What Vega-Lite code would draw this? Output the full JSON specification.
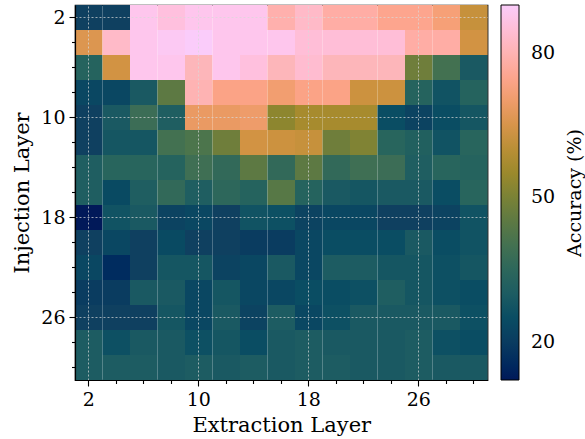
{
"$schema": "https://vega.github.io/schema/vega-lite/v6.json",
"width": 412.5, "height": 375,
"autosize": {"type": "none"},
"padding": {"left": 75, "top": 5, "right": 97.5, "bottom": 59},
"background": "white",
"config": {"font": "DejaVu Serif", "view": {"stroke": "black", "strokeWidth": 1.2}},
"datasets": {"acc": [
{"e":2,"i":2,"a":21},{"e":4,"i":2,"a":21},{"e":6,"i":2,"a":88},{"e":8,"i":2,"a":86},{"e":10,"i":2,"a":88},{"e":12,"i":2,"a":88},{"e":14,"i":2,"a":88},{"e":16,"i":2,"a":79},{"e":18,"i":2,"a":83},{"e":20,"i":2,"a":78},{"e":22,"i":2,"a":78},{"e":24,"i":2,"a":75},{"e":26,"i":2,"a":75},{"e":28,"i":2,"a":72},{"e":30,"i":2,"a":62},
{"e":2,"i":4,"a":66},{"e":4,"i":4,"a":83},{"e":6,"i":4,"a":88},{"e":8,"i":4,"a":89},{"e":10,"i":4,"a":90},{"e":12,"i":4,"a":88},{"e":14,"i":4,"a":88},{"e":16,"i":4,"a":88},{"e":18,"i":4,"a":85},{"e":20,"i":4,"a":85},{"e":22,"i":4,"a":85},{"e":24,"i":4,"a":85},{"e":26,"i":4,"a":78},{"e":28,"i":4,"a":78},{"e":30,"i":4,"a":64},
{"e":2,"i":6,"a":33},{"e":4,"i":6,"a":64},{"e":6,"i":6,"a":88},{"e":8,"i":6,"a":88},{"e":10,"i":6,"a":81},{"e":12,"i":6,"a":88},{"e":14,"i":6,"a":86},{"e":16,"i":6,"a":81},{"e":18,"i":6,"a":84},{"e":20,"i":6,"a":81},{"e":22,"i":6,"a":81},{"e":24,"i":6,"a":81},{"e":26,"i":6,"a":48},{"e":28,"i":6,"a":40},{"e":30,"i":6,"a":29},
{"e":2,"i":8,"a":23},{"e":4,"i":8,"a":23},{"e":6,"i":8,"a":29},{"e":8,"i":8,"a":45},{"e":10,"i":8,"a":80},{"e":12,"i":8,"a":74},{"e":14,"i":8,"a":74},{"e":16,"i":8,"a":71},{"e":18,"i":8,"a":74},{"e":20,"i":8,"a":74},{"e":22,"i":8,"a":63},{"e":24,"i":8,"a":63},{"e":26,"i":8,"a":33},{"e":28,"i":8,"a":27},{"e":30,"i":8,"a":33},
{"e":2,"i":10,"a":21},{"e":4,"i":10,"a":29},{"e":6,"i":10,"a":38},{"e":8,"i":10,"a":31},{"e":10,"i":10,"a":69},{"e":12,"i":10,"a":69},{"e":14,"i":10,"a":70},{"e":16,"i":10,"a":53},{"e":18,"i":10,"a":57},{"e":20,"i":10,"a":57},{"e":22,"i":10,"a":57},{"e":24,"i":10,"a":25},{"e":26,"i":10,"a":22},{"e":28,"i":10,"a":25},{"e":30,"i":10,"a":28},
{"e":2,"i":12,"a":21},{"e":4,"i":12,"a":28},{"e":6,"i":12,"a":28},{"e":8,"i":12,"a":40},{"e":10,"i":12,"a":42},{"e":12,"i":12,"a":48},{"e":14,"i":12,"a":64},{"e":16,"i":12,"a":63},{"e":18,"i":12,"a":62},{"e":20,"i":12,"a":48},{"e":22,"i":12,"a":51},{"e":24,"i":12,"a":34},{"e":26,"i":12,"a":32},{"e":28,"i":12,"a":27},{"e":30,"i":12,"a":34},
{"e":2,"i":14,"a":31},{"e":4,"i":14,"a":34},{"e":6,"i":14,"a":34},{"e":8,"i":14,"a":33},{"e":10,"i":14,"a":39},{"e":12,"i":14,"a":36},{"e":14,"i":14,"a":45},{"e":16,"i":14,"a":36},{"e":18,"i":14,"a":45},{"e":20,"i":14,"a":36},{"e":22,"i":14,"a":39},{"e":24,"i":14,"a":38},{"e":26,"i":14,"a":31},{"e":28,"i":14,"a":34},{"e":30,"i":14,"a":33},
{"e":2,"i":16,"a":31},{"e":4,"i":16,"a":24},{"e":6,"i":16,"a":31},{"e":8,"i":16,"a":36},{"e":10,"i":16,"a":31},{"e":12,"i":16,"a":35},{"e":14,"i":16,"a":33},{"e":16,"i":16,"a":44},{"e":18,"i":16,"a":33},{"e":20,"i":16,"a":29},{"e":22,"i":16,"a":28},{"e":24,"i":16,"a":29},{"e":26,"i":16,"a":29},{"e":28,"i":16,"a":25},{"e":30,"i":16,"a":34},
{"e":2,"i":18,"a":12},{"e":4,"i":18,"a":27},{"e":6,"i":18,"a":29},{"e":8,"i":18,"a":22},{"e":10,"i":18,"a":23},{"e":12,"i":18,"a":21},{"e":14,"i":18,"a":27},{"e":16,"i":18,"a":26},{"e":18,"i":18,"a":22},{"e":20,"i":18,"a":23},{"e":22,"i":18,"a":23},{"e":24,"i":18,"a":21},{"e":26,"i":18,"a":21},{"e":28,"i":18,"a":22},{"e":30,"i":18,"a":27},
{"e":2,"i":20,"a":21},{"e":4,"i":20,"a":23},{"e":6,"i":20,"a":21},{"e":8,"i":20,"a":24},{"e":10,"i":20,"a":21},{"e":12,"i":20,"a":21},{"e":14,"i":20,"a":20},{"e":16,"i":20,"a":20},{"e":18,"i":20,"a":23},{"e":20,"i":20,"a":25},{"e":22,"i":20,"a":25},{"e":24,"i":20,"a":25},{"e":26,"i":20,"a":29},{"e":28,"i":20,"a":25},{"e":30,"i":20,"a":27},
{"e":2,"i":22,"a":23},{"e":4,"i":22,"a":16},{"e":6,"i":22,"a":21},{"e":8,"i":22,"a":28},{"e":10,"i":22,"a":28},{"e":12,"i":22,"a":22},{"e":14,"i":22,"a":23},{"e":16,"i":22,"a":29},{"e":18,"i":22,"a":23},{"e":20,"i":22,"a":30},{"e":22,"i":22,"a":30},{"e":24,"i":22,"a":28},{"e":26,"i":22,"a":28},{"e":28,"i":22,"a":26},{"e":30,"i":22,"a":28},
{"e":2,"i":24,"a":20},{"e":4,"i":24,"a":20},{"e":6,"i":24,"a":29},{"e":8,"i":24,"a":29},{"e":10,"i":24,"a":23},{"e":12,"i":24,"a":28},{"e":14,"i":24,"a":23},{"e":16,"i":24,"a":23},{"e":18,"i":24,"a":25},{"e":20,"i":24,"a":25},{"e":22,"i":24,"a":26},{"e":24,"i":24,"a":31},{"e":26,"i":24,"a":28},{"e":28,"i":24,"a":26},{"e":30,"i":24,"a":25},
{"e":2,"i":26,"a":21},{"e":4,"i":26,"a":21},{"e":6,"i":26,"a":21},{"e":8,"i":26,"a":28},{"e":10,"i":26,"a":23},{"e":12,"i":26,"a":29},{"e":14,"i":26,"a":22},{"e":16,"i":26,"a":30},{"e":18,"i":26,"a":23},{"e":20,"i":26,"a":26},{"e":22,"i":26,"a":29},{"e":24,"i":26,"a":29},{"e":26,"i":26,"a":29},{"e":28,"i":26,"a":29},{"e":30,"i":26,"a":26},
{"e":2,"i":28,"a":30},{"e":4,"i":28,"a":26},{"e":6,"i":28,"a":29},{"e":8,"i":28,"a":29},{"e":10,"i":28,"a":26},{"e":12,"i":28,"a":28},{"e":14,"i":28,"a":25},{"e":16,"i":28,"a":29},{"e":18,"i":28,"a":30},{"e":20,"i":28,"a":29},{"e":22,"i":28,"a":29},{"e":24,"i":28,"a":29},{"e":26,"i":28,"a":30},{"e":28,"i":28,"a":26},{"e":30,"i":28,"a":25},
{"e":2,"i":30,"a":30},{"e":4,"i":30,"a":30},{"e":6,"i":30,"a":30},{"e":8,"i":30,"a":29},{"e":10,"i":30,"a":30},{"e":12,"i":30,"a":29},{"e":14,"i":30,"a":30},{"e":16,"i":30,"a":29},{"e":18,"i":30,"a":30},{"e":20,"i":30,"a":30},{"e":22,"i":30,"a":29},{"e":24,"i":30,"a":29},{"e":26,"i":30,"a":30},{"e":28,"i":30,"a":29},{"e":30,"i":30,"a":29}
]},
"data": {"name": "acc"},
"mark": {"type": "rect"},
"encoding": {
  "x": {"field": "e", "type": "ordinal", "scale": {"paddingInner": 0, "paddingOuter": 0},
    "axis": {"title": "Extraction Layer", "labelAngle": 0, "labelExpr": "datum.value % 8 == 2 ? datum.label : ''",
      "bandPosition": 0.5, "tickSize": {"condition": {"test": "datum.value % 8 == 2", "value": 6}, "value": 3.5},
      "grid": true, "gridColor": "#d8d8d8", "gridDash": [2, 2], "gridWidth": 1,
      "gridOpacity": {"condition": {"test": "datum.value % 8 == 2", "value": 0.7}, "value": 0},
      "zindex": 1, "domainColor": "black", "domainWidth": 1.2, "tickColor": "black", "tickWidth": 1.1,
      "labelColor": "black", "labelFontSize": 19, "labelPadding": 4, "labelFont": "DejaVu Serif",
      "titleColor": "black", "titleFontSize": 21, "titleFontWeight": "normal", "titlePadding": 5, "titleFont": "DejaVu Serif"}},
  "y": {"field": "i", "type": "ordinal", "scale": {"paddingInner": 0, "paddingOuter": 0},
    "axis": {"title": "Injection Layer", "labelExpr": "datum.value % 8 == 2 ? datum.label : ''",
      "bandPosition": 0.5, "tickSize": {"condition": {"test": "datum.value % 8 == 2", "value": 6}, "value": 3.5},
      "grid": true, "gridColor": "#d8d8d8", "gridDash": [2, 2], "gridWidth": 1,
      "gridOpacity": {"condition": {"test": "datum.value % 8 == 2", "value": 0.7}, "value": 0},
      "zindex": 1, "domainColor": "black", "domainWidth": 1.2, "tickColor": "black", "tickWidth": 1.1,
      "labelColor": "black", "labelFontSize": 19, "labelPadding": 4, "labelFont": "DejaVu Serif",
      "titleColor": "black", "titleFontSize": 21, "titleFontWeight": "normal", "titlePadding": 8, "titleFont": "DejaVu Serif"}},
  "color": {"field": "a", "type": "quantitative",
    "scale": {"domain": [12, 20.667, 29.333, 38, 46.667, 55.333, 64, 72.667, 81.333, 90],
      "range": ["#011959", "#103F60", "#1C5A62", "#3C6D56", "#687B3E", "#9D892B", "#D29343", "#F8A17B", "#FDB7BC", "#FACCFA"]},
    "legend": {"title": "Accuracy (%)", "orient": "right", "offset": 13, "gradientLength": 375, "gradientThickness": 18,
      "gradientStrokeColor": "black", "gradientStrokeWidth": 1, "values": [20, 50, 80],
      "labelFontSize": 19, "labelOffset": 12, "labelColor": "black", "labelFont": "DejaVu Serif",
      "titleOrient": "right", "titleFontSize": 19, "titleFontWeight": "normal", "titleColor": "black", "titleFont": "DejaVu Serif",
      "titleAnchor": "middle", "titlePadding": 30, "padding": 0,
      "encode": {"title": {"update": {"angle": {"value": -90}}}}}}
}
}
